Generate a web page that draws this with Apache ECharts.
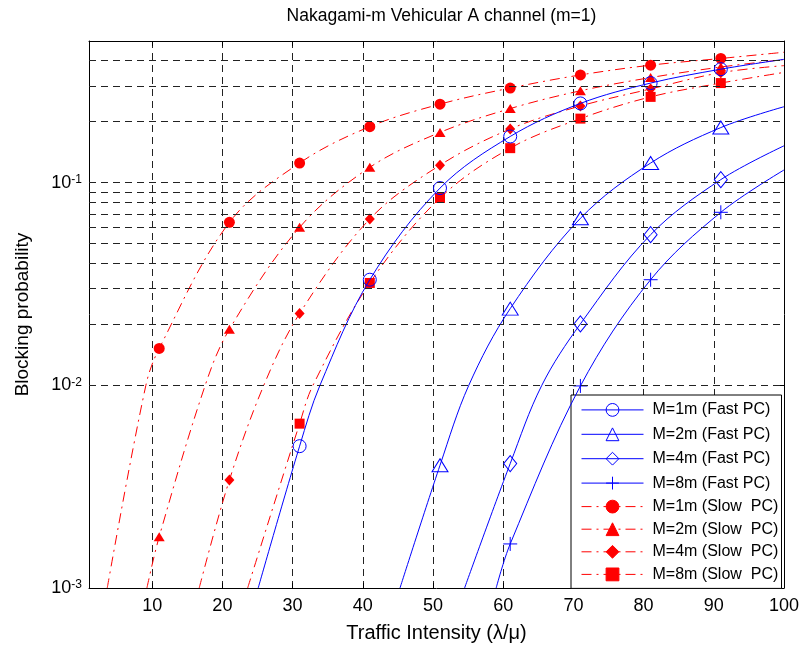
<!DOCTYPE html>
<html>
<head>
<meta charset="utf-8">
<script src="https://cdn.jsdelivr.net/npm/echarts@6/dist/echarts.min.js"></script>
<style>
  html, body { margin: 0; padding: 0; background: #fff; }
  #chart { width: 804px; height: 653px; }
</style>
</head>
<body>
<div id="chart"></div>
<script>
// Traffic intensities where markers are placed
const markerX = [11, 21, 31, 41, 51, 61, 71, 81, 91];

// Blocking probability curves, [traffic intensity, probability]
// Fast power control
const fast1m = [[25.1, 0.001], [31, 0.00501], [33.9, 0.01], [41, 0.0332], [51, 0.094], [61, 0.169], [71, 0.246], [81, 0.31], [91, 0.363], [100, 0.406]];
const fast2m = [[45.3, 0.001], [51, 0.00403], [55.1, 0.01], [61, 0.0239], [71, 0.0667], [81, 0.125], [91, 0.187], [100, 0.237]];
const fast4m = [[54.5, 0.001], [61, 0.00411], [65.5, 0.01], [71, 0.0201], [81, 0.0554], [91, 0.1035], [100, 0.152]];
const fast8m = [[59.0, 0.001], [61, 0.00165], [71, 0.00993], [81, 0.0332], [91, 0.0714], [100, 0.1155]];
// Slow power control
const slow1m = [[3.6, 0.001], [9.1, 0.01], [11, 0.0152], [21, 0.0637], [31, 0.125], [41, 0.189], [51, 0.244], [61, 0.293], [71, 0.340], [81, 0.380], [91, 0.41], [100, 0.44]];
const slow2m = [[9.25, 0.001], [11, 0.00179], [17.55, 0.01], [21, 0.0189], [31, 0.0602], [41, 0.119], [51, 0.177], [61, 0.232], [71, 0.284], [81, 0.33], [91, 0.372], [100, 0.405]];
const slow4m = [[16.7, 0.001], [21, 0.00341], [25.9, 0.01], [31, 0.0226], [41, 0.0662], [51, 0.122], [61, 0.184], [71, 0.239], [81, 0.29], [91, 0.349], [100, 0.378]];
const slow8m = [[23.6, 0.001], [31, 0.00647], [32.9, 0.01], [41, 0.032], [51, 0.084], [61, 0.148], [71, 0.207], [81, 0.265], [91, 0.31], [100, 0.35]];

const seriesNames = [
  'M=1m (Fast PC)', 'M=2m (Fast PC)', 'M=4m (Fast PC)', 'M=8m (Fast PC)',
  'M=1m (Slow  PC)', 'M=2m (Slow  PC)', 'M=4m (Slow  PC)', 'M=8m (Slow  PC)'
];

// Axis ranges
const xMin = 1, xMax = 100;
const yMin = 0.001, yMax = 0.5;
const decades = [0.001, 0.01, 0.1];
const gridMultipliers = [1, 2, 3, 4, 5, 6, 7, 8, 9];

const FONT = 'Liberation Sans';
const BLUE = '#0000ff';
const RED = '#ff0000';
const PLUS = 'path://M6,0L6,12M0,6L12,6';

function toData(pts) {
  return pts.map(function (p) {
    return markerX.indexOf(p[0]) >= 0 ? { value: p } : { value: p, symbol: 'none' };
  });
}

function curve(name, pts, color, symbol, size, filled, dashed) {
  return {
    name: name,
    type: 'line',
    data: toData(pts),
    smooth: 0.35,
    z: dashed ? 3 : 4,
    symbol: symbol,
    symbolSize: size,
    showAllSymbol: true,
    lineStyle: { color: color, width: 1, type: dashed ? [10, 5, 2, 5] : 'solid' },
    itemStyle: filled
      ? { color: color, borderColor: color, borderWidth: 0 }
      : { color: 'none', borderColor: color, borderWidth: 1 },
    emphasis: { disabled: true },
    clip: true
  };
}

// Horizontal dashed grid lines at every 1..9 multiple of each decade
const hGrid = [];
decades.forEach(function (d) {
  gridMultipliers.forEach(function (m) {
    const v = +(d * m).toPrecision(3);
    if (v > yMin && v < yMax) hGrid.push({ yAxis: v });
  });
});

const series = [
  {
    name: '__grid', type: 'line', data: [], z: 1, silent: true,
    markLine: {
      silent: true, symbol: ['none', 'none'], label: { show: false },
      lineStyle: { color: '#222', width: 1, type: [7, 5] },
      emphasis: { disabled: true },
      animation: false,
      data: hGrid
    }
  },
  curve(seriesNames[4], slow1m, RED, 'circle', 11, true, true),
  curve(seriesNames[5], slow2m, RED, 'triangle', [11, 9], true, true),
  curve(seriesNames[6], slow4m, RED, 'diamond', [10, 11], true, true),
  curve(seriesNames[7], slow8m, RED, 'rect', 10, true, true),
  curve(seriesNames[0], fast1m, BLUE, 'circle', 13, false, false),
  curve(seriesNames[1], fast2m, BLUE, 'triangle', [16, 13], false, false),
  curve(seriesNames[2], fast4m, BLUE, 'diamond', [13, 16], false, false),
  curve(seriesNames[3], fast8m, BLUE, PLUS, 14, false, false)
];

const chart = echarts.init(document.getElementById('chart'), null, { renderer: 'canvas' });

const tickCommon = { show: true, inside: true, length: 5, lineStyle: { color: '#000', width: 1 } };
const lineCommon = { show: true, onZero: false, lineStyle: { color: '#000', width: 1 } };

chart.setOption({
  animation: false,
  backgroundColor: '#fff',
  textStyle: { fontFamily: FONT },
  title: {
    text: 'Nakagami-m Vehicular A channel (m=1)',
    left: 436.5, top: 2, textAlign: 'center',
    textStyle: { fontFamily: FONT, fontSize: 17.5, fontWeight: 'normal', color: '#000' }
  },
  grid: { left: 89, right: 20, top: 41, bottom: 65, containLabel: false },
  legend: {
    data: seriesNames,
    orient: 'vertical',
    left: 571, top: 395,
    itemWidth: 62, itemHeight: 16, itemGap: 6.6,
    padding: [6, 3, 6, 10],
    backgroundColor: '#fff',
    borderColor: '#000', borderWidth: 1,
    selectedMode: false,
    lineStyle: { width: 1 },
    itemStyle: { borderWidth: 1 },
    textStyle: { fontFamily: FONT, fontSize: 16, lineHeight: 16, color: '#000', width: 126, padding: [0, 0, 0, 4] }
  },
  xAxis: [
    {
      type: 'value', min: xMin, max: xMax, splitNumber: 10,
      axisLine: lineCommon, axisTick: tickCommon,
      axisLabel: {
        color: '#000', fontSize: 18, fontFamily: FONT, margin: 9,
        formatter: function (v) { return v % 10 === 0 ? String(v) : ''; }
      },
      splitLine: { show: true, lineStyle: { color: '#222', width: 1, type: [7, 5] } },
      name: 'Traffic Intensity (λ/μ)', nameLocation: 'middle', nameGap: 35,
      nameTextStyle: { color: '#000', fontSize: 20, fontFamily: FONT }
    },
    {
      type: 'value', position: 'top', min: xMin, max: xMax, splitNumber: 10,
      axisLine: lineCommon, axisTick: tickCommon,
      axisLabel: { show: false }, splitLine: { show: false }
    }
  ],
  yAxis: [
    {
      type: 'log', logBase: 10, min: yMin, max: yMax,
      axisLine: lineCommon, axisTick: tickCommon,
      axisLabel: {
        color: '#000', fontFamily: FONT, margin: 7,
        formatter: function (v) {
          const e = Math.log10(v);
          if (Math.abs(e - Math.round(e)) > 1e-6) return '';
          return '{b|10}{s|' + Math.round(e) + '}';
        },
        rich: {
          b: { fontSize: 18, fontFamily: FONT, color: '#000', lineHeight: 18, verticalAlign: 'bottom' },
          s: { fontSize: 12, fontFamily: FONT, color: '#000', lineHeight: 12, verticalAlign: 'top', padding: [0, 0, 10, 0] }
        }
      },
      splitLine: { show: false },
      name: 'Blocking probability', nameLocation: 'middle', nameGap: 57, nameRotate: 90,
      nameTextStyle: { color: '#000', fontSize: 19, fontFamily: FONT }
    },
    {
      type: 'log', logBase: 10, min: yMin, max: yMax, position: 'right',
      axisLine: lineCommon, axisTick: tickCommon,
      axisLabel: { show: false }, splitLine: { show: false }
    }
  ],
  series: series
});
</script>
</body>
</html>
